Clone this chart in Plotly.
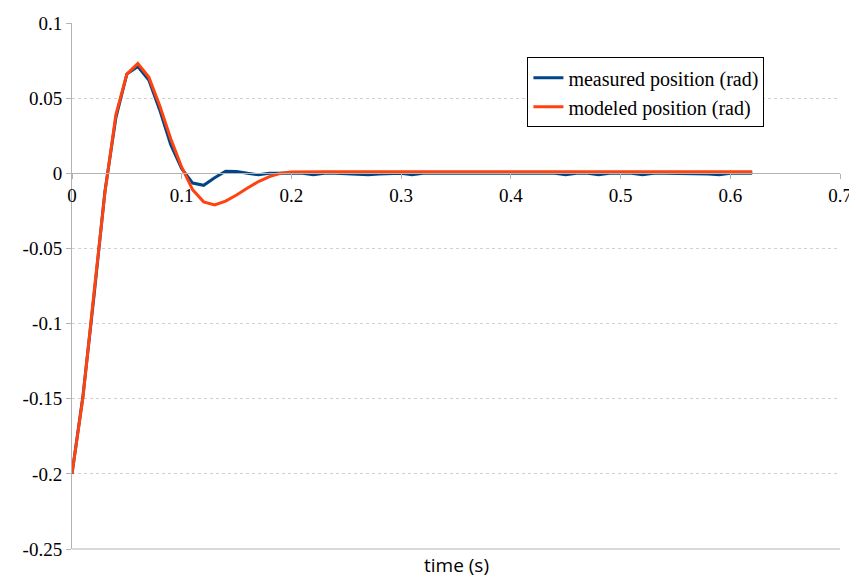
import plotly.graph_objects as go

time_s = [0.00, 0.01, 0.02, 0.03, 0.04, 0.05, 0.06, 0.07, 0.08, 0.09,
          0.10, 0.11, 0.12, 0.13, 0.14, 0.15, 0.16, 0.17, 0.18, 0.19,
          0.20, 0.21, 0.22, 0.23, 0.24, 0.25, 0.26, 0.27, 0.28, 0.29,
          0.30, 0.31, 0.32, 0.33, 0.34, 0.35, 0.36, 0.37, 0.38, 0.39,
          0.40, 0.41, 0.42, 0.43, 0.44, 0.45, 0.46, 0.47, 0.48, 0.49,
          0.50, 0.51, 0.52, 0.53, 0.54, 0.55, 0.56, 0.57, 0.58, 0.59,
          0.60, 0.61, 0.62]

measured = [-0.200, -0.148, -0.082, -0.012, 0.037, 0.066, 0.071, 0.062, 0.042, 0.019,
            0.003, -0.0065, -0.008, -0.003, 0.0013, 0.0012, 0.0, -0.001, 0.0, 0.0,
            0.0, 0.0, -0.001, 0.0, 0.0, -0.0005, -0.001, -0.001, -0.0005, 0.0,
            0.0, -0.001, 0.0, 0.0, 0.0, 0.0, 0.0, 0.0, 0.0, 0.0,
            0.0, -0.0005, 0.0, 0.0, 0.0, -0.001, 0.0, 0.0, -0.001, 0.0,
            0.0, 0.0, -0.001, 0.0, 0.0, 0.0, 0.0, 0.0, -0.0005, -0.001,
            0.0, 0.0, 0.0]

modeled = [-0.200, -0.149, -0.080, -0.013, 0.039, 0.066, 0.073, 0.064, 0.045, 0.023,
           0.004, -0.011, -0.019, -0.021, -0.0185, -0.0145, -0.0098, -0.0055, -0.0022, 0.0,
           0.0008, 0.001, 0.001, 0.001, 0.001, 0.001, 0.001, 0.001, 0.001, 0.001,
           0.001, 0.001, 0.001, 0.001, 0.001, 0.001, 0.001, 0.001, 0.001, 0.001,
           0.001, 0.001, 0.001, 0.001, 0.001, 0.001, 0.001, 0.001, 0.001, 0.001,
           0.001, 0.001, 0.001, 0.001, 0.001, 0.001, 0.001, 0.001, 0.001, 0.001,
           0.001, 0.001, 0.001]

x_ticks = [0, 0.1, 0.2, 0.3, 0.4, 0.5, 0.6, 0.7]
x_tick_labels = ["0", "0.1", "0.2", "0.3", "0.4", "0.5", "0.6", "0.7"]
y_ticks = [0.1, 0.05, 0, -0.05, -0.1, -0.15, -0.2, -0.25]
y_tick_labels = ["0.1", "0.05", "0", "-0.05", "-0.1", "-0.15", "-0.2", "-0.25"]

serif = "Liberation Serif"

fig = go.Figure()
fig.add_trace(go.Scatter(x=time_s, y=measured, mode="lines",
                         name="measured position (rad)",
                         line=dict(color="#004586", width=3)))
fig.add_trace(go.Scatter(x=time_s, y=modeled, mode="lines",
                         name="modeled position (rad)",
                         line=dict(color="#ff420e", width=3)))

y0_frac = (0 - (-0.25)) / (0.1 - (-0.25))

# page body has an 8px default margin, so the figure is sized/offset for it
fig.update_layout(
    width=849, height=571,
    margin=dict(l=64, r=17, t=15, b=30, autoexpand=False),
    paper_bgcolor="white", plot_bgcolor="white",
    font=dict(family=serif, size=18, color="black"),
    showlegend=True,
    legend=dict(x=0.593, y=0.935, xanchor="left", yanchor="top",
                bgcolor="white", bordercolor="black", borderwidth=1,
                font=dict(family=serif, size=20, color="black"),
                tracegroupgap=0, itemwidth=30),
    xaxis=dict(range=[0, 0.7], tickvals=x_ticks, ticktext=x_tick_labels,
               anchor="free", position=y0_frac, automargin=False,
               showline=True, linecolor="#b3b3b3", linewidth=1,
               ticks="outside", ticklen=5, tickcolor="#b3b3b3",
               showgrid=False, zeroline=False,
               tickfont=dict(family=serif, size=19, color="black")),
    yaxis=dict(range=[-0.25, 0.1], tickvals=y_ticks, ticktext=y_tick_labels,
               automargin=False,
               showline=True, linecolor="#b3b3b3", linewidth=1,
               ticks="outside", ticklen=5, tickcolor="#b3b3b3",
               showgrid=True, gridcolor="#d0d0d0", griddash="dot", gridwidth=1,
               zeroline=False,
               tickfont=dict(family=serif, size=19, color="black")),
    annotations=[dict(text="time (s)", x=0.5, y=-0.030, xref="paper", yref="paper",
                      xanchor="center", yanchor="middle", showarrow=False,
                      font=dict(family="Open Sans", size=19, color="black"))],
    shapes=[dict(type="line", xref="paper", yref="paper", x0=0, x1=1, y0=0, y1=0,
                 line=dict(color="#b3b3b3", width=1))],
)

fig.write_html("out.html")
